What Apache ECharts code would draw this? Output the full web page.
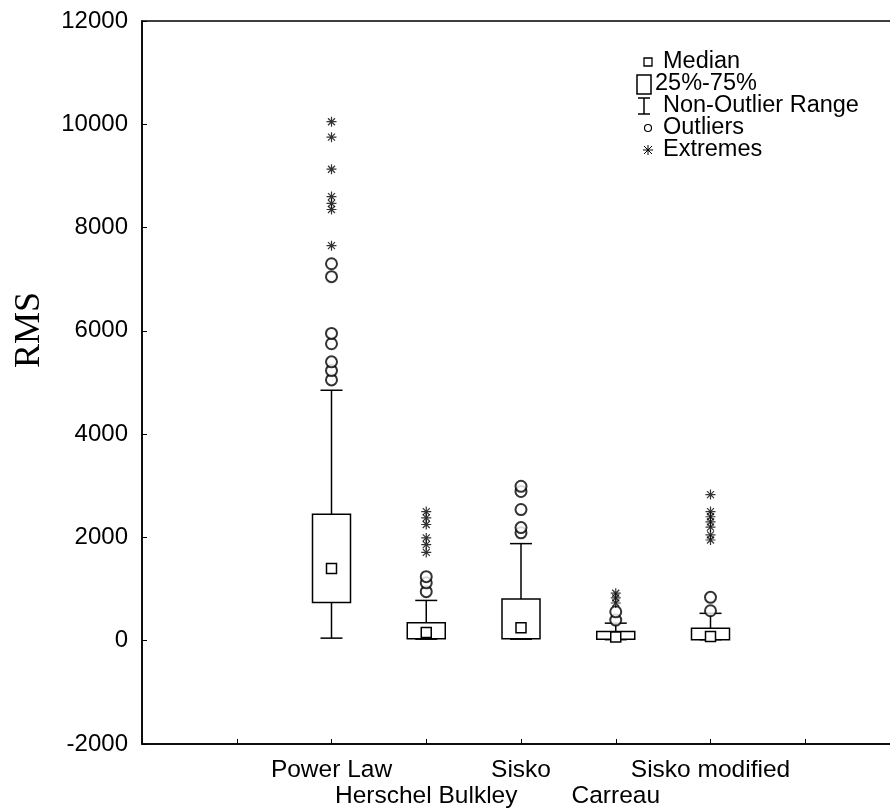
<!DOCTYPE html>
<html>
<head>
<meta charset="utf-8">
<script src="https://cdn.jsdelivr.net/npm/echarts@6/dist/echarts.min.js"></script>
<style>html,body{margin:0;padding:0;background:#fff}#c{width:890px;height:812px}</style>
</head>
<body>
<div id="c"></div>
<script>
// ---- data ----
const categories = ['Power Law', 'Herschel Bulkley', 'Sisko', 'Carreau', 'Sisko modified'];
const whiskerLow  = [50, 30, 30, 20, 20];
const q1          = [740, 40, 40, 30, 20];
const median      = [1400, 160, 250, 70, 80];
const q3          = [2450, 350, 810, 180, 240];
const whiskerHigh = [4850, 780, 1880, 340, 530];
const outliers = [
  [5050, 5230, 5400, 5750, 5950, 7050, 7300],
  [950, 1120, 1240],
  [2090, 2190, 2540, 2890, 2990],
  [400, 560],
  [580, 840]
];
const extremes = [
  [7650, 8350, 8470, 8600, 9130, 9750, 10050],
  [1710, 1860, 1990, 2250, 2380, 2500],
  [],
  [730, 830, 920],
  [1950, 2050, 2200, 2300, 2400, 2500, 2830]
];
const yTicks = { min: -2000, max: 12000, interval: 2000 };
const legendLabels = ['Median', '25%-75%', 'Non-Outlier Range', 'Outliers', 'Extremes'];
const yTitle = 'RMS';

// padded axis: one empty slot on each side plus the frame ends
const axisCats = ['', ''].concat(categories, ['', '']);
const OFF = 2;

const boxData = categories.map((c, i) => [i + OFF, whiskerLow[i], q1[i], median[i], q3[i], whiskerHigh[i]]);
const outData = [];
outliers.forEach((arr, i) => arr.forEach(v => outData.push([i + OFF, v])));
const extData = [];
extremes.forEach((arr, i) => arr.forEach(v => extData.push([i + OFF, v])));

const STAR = 'path://M0,5L10,5M5,0L5,10M1.5,1.5L8.5,8.5M8.5,1.5L1.5,8.5';
const ink = { stroke: '#000', lineWidth: 1.5, fill: 'none' };
const SANS = '"Liberation Sans", Arial, sans-serif';

const chart = echarts.init(document.getElementById('c'), null, { renderer: 'canvas' });

const lx = 650, ly0 = 62, ldy = 22;
const thin = { stroke: '#000', lineWidth: 1 };
const legendGraphics = [
  { type: 'rect', shape: { x: lx - 6, y: ly0 - 4, width: 8, height: 8 }, style: { stroke: '#000', lineWidth: 1.3, fill: 'none' } },
  { type: 'rect', shape: { x: lx - 13, y: ly0 + ldy - 9, width: 14, height: 19 }, style: ink },
  { type: 'line', shape: { x1: lx - 6, y1: ly0 + 2 * ldy - 8, x2: lx - 6, y2: ly0 + 2 * ldy + 8 }, style: ink },
  { type: 'line', shape: { x1: lx - 12, y1: ly0 + 2 * ldy - 8, x2: lx, y2: ly0 + 2 * ldy - 8 }, style: ink },
  { type: 'line', shape: { x1: lx - 12, y1: ly0 + 2 * ldy + 8, x2: lx, y2: ly0 + 2 * ldy + 8 }, style: ink },
  { type: 'circle', shape: { cx: lx - 2, cy: ly0 + 3 * ldy, r: 3.5 }, style: { stroke: '#000', lineWidth: 1.2, fill: 'none' } },
  { type: 'line', shape: { x1: lx - 7, y1: ly0 + 4 * ldy, x2: lx + 3, y2: ly0 + 4 * ldy }, style: thin },
  { type: 'line', shape: { x1: lx - 2, y1: ly0 + 4 * ldy - 5, x2: lx - 2, y2: ly0 + 4 * ldy + 5 }, style: thin },
  { type: 'line', shape: { x1: lx - 6, y1: ly0 + 4 * ldy - 4, x2: lx + 2, y2: ly0 + 4 * ldy + 4 }, style: thin },
  { type: 'line', shape: { x1: lx + 2, y1: ly0 + 4 * ldy - 4, x2: lx - 6, y2: ly0 + 4 * ldy + 4 }, style: thin },
  {
    type: 'text', x: 30, y: 330, rotation: Math.PI / 2,
    style: { text: yTitle, align: 'center', verticalAlign: 'middle', font: '36px "Liberation Serif", "Times New Roman", serif', fill: '#000' }
  }
];
legendLabels.forEach((t, i) => {
  legendGraphics.push({
    type: 'text',
    style: {
      text: t, x: i === 1 ? 655 : 663, y: ly0 + i * ldy,
      verticalAlign: 'middle', align: 'left',
      font: '23.5px ' + SANS, fill: '#000'
    }
  });
});

chart.setOption({
  animation: false,
  backgroundColor: '#fff',
  grid: { left: 142, top: 21, width: 758, height: 723, show: true, borderColor: '#000', borderWidth: 1.5, outerBoundsMode: 'none', containLabel: false },
  xAxis: {
    type: 'category',
    data: axisCats,
    boundaryGap: false,
    axisLine: { onZero: false, lineStyle: { color: '#000', width: 1.5 } },
    axisTick: { inside: true, length: 5, interval: 0, lineStyle: { color: '#000', width: 1 } },
    axisLabel: {
      interval: 0, color: '#000', margin: 13,
      fontFamily: SANS, fontSize: 24.5, lineHeight: 26,
      formatter: (v, i) => (i % 2 === 1 ? '\n' + v : v)
    },
    splitLine: { show: false }
  },
  yAxis: {
    type: 'value',
    min: yTicks.min, max: yTicks.max, interval: yTicks.interval,
    axisLine: { show: true, lineStyle: { color: '#000', width: 1.5 } },
    axisTick: { show: true, inside: true, length: 5, lineStyle: { color: '#000', width: 1 } },
    axisLabel: { color: '#000', margin: 14, fontFamily: SANS, fontSize: 24, formatter: v => String(v) },
    splitLine: { show: false }
  },
  graphic: legendGraphics,
  series: [
    {
      type: 'custom',
      data: boxData,
      encode: { x: 0, y: [1, 2, 3, 4, 5] },
      renderItem: function (params, api) {
        const x = api.value(0);
        const lo = api.coord([x, api.value(1)]);
        const b1 = api.coord([x, api.value(2)]);
        const md = api.coord([x, api.value(3)]);
        const b3 = api.coord([x, api.value(4)]);
        const hi = api.coord([x, api.value(5)]);
        const cx = lo[0];
        const bw = 38, cw = 22, ms = 10;
        return {
          type: 'group',
          children: [
            { type: 'line', shape: { x1: cx, y1: lo[1], x2: cx, y2: b1[1] }, style: ink },
            { type: 'line', shape: { x1: cx, y1: b3[1], x2: cx, y2: hi[1] }, style: ink },
            { type: 'line', shape: { x1: cx - cw / 2, y1: lo[1], x2: cx + cw / 2, y2: lo[1] }, style: ink },
            { type: 'line', shape: { x1: cx - cw / 2, y1: hi[1], x2: cx + cw / 2, y2: hi[1] }, style: ink },
            { type: 'rect', shape: { x: cx - bw / 2, y: b3[1], width: bw, height: b1[1] - b3[1] }, style: { stroke: '#000', lineWidth: 1.5, fill: '#fff' } },
            { type: 'rect', shape: { x: cx - ms / 2, y: md[1] - ms / 2, width: ms, height: ms }, style: { stroke: '#000', lineWidth: 1.5, fill: '#fff' } }
          ]
        };
      },
      z: 2
    },
    {
      type: 'scatter',
      data: outData,
      symbol: 'emptyCircle',
      symbolSize: 11,
      itemStyle: { color: '#000', borderColor: '#000', borderWidth: 1.5 },
      z: 3
    },
    {
      type: 'scatter',
      data: extData,
      symbol: STAR,
      symbolSize: 10,
      itemStyle: { color: 'none', borderColor: '#000', borderWidth: 1.2 },
      z: 3
    }
  ]
});
</script>
</body>
</html>
